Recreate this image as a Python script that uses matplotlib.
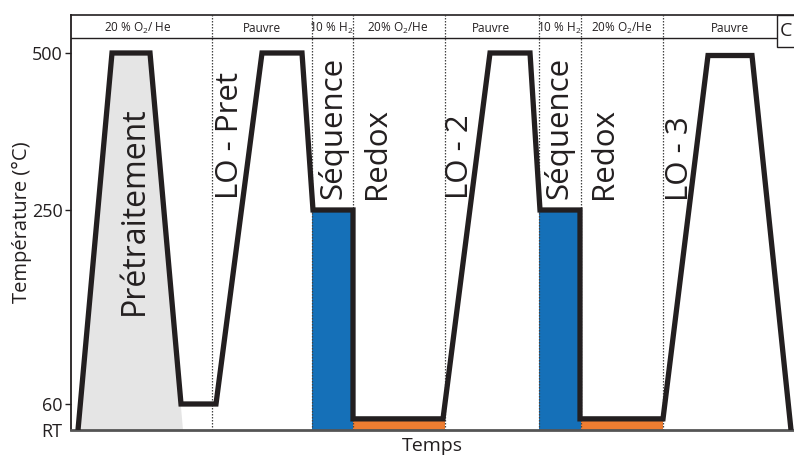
import numpy as np
import matplotlib
matplotlib.use("Agg")
import matplotlib.pyplot as plt
from matplotlib.patches import Polygon, Rectangle

plt.rcParams['font.family'] = ['Open Sans', 'DejaVu Sans']
plt.rcParams['mathtext.fontset'] = 'custom'
plt.rcParams['mathtext.rm'] = 'Open Sans'
plt.rcParams['mathtext.it'] = 'Open Sans'

# ---------------- data ----------------
RT = 25
# temperature program (time in arbitrary units, temperature in °C)
prog_t = [7, 41, 79, 110, 145, 191, 231, 242, 282, 282, 372, 419, 459, 469, 509, 509, 592, 637, 681, 720]
prog_T = [RT, 500, 500, 60, 60, 500, 500, 250, 250, 40, 40, 500, 500, 250, 250, 40, 40, 496, 496, RT]

# pretreatment shaded area
pre_t = [7, 41, 79, 112]
pre_T = [RT, 500, 500, RT]

# reduction (10 % H2) blocks and reoxidation (O2/He) blocks
red_start = [241, 468]
red_end = [282, 510]
red_top = [250, 250]
ox_start = [282, 510]
ox_end = [374, 592]
ox_top = [40, 40]

# gas phase dividers
dividers = [141, 241, 282, 374, 468, 510, 592]
gas_labels = ['20 % O$\\mathregular{_2}$/ He', 'Pauvre', '10 % H$\\mathregular{_2}$', '20% O$\\mathregular{_2}$/He',
              'Pauvre', '10 % H$\\mathregular{_2}$', '20% O$\\mathregular{_2}$/He', 'Pauvre']
gas_label_t = [67, 191, 260, 327, 420, 488, 551, 659]

# step annotations
step_labels = ['Prétraitement', 'LO - Pret', 'Séquence', 'Redox', 'LO - 2', 'Séquence', 'Redox', 'LO - 3']
step_t = [72, 167, 270, 314, 397, 496, 541, 617]
step_T_start = [147, 267, 267, 267, 267, 267, 267, 265]
step_size = [23, 22.5, 22.5, 22.5, 22.5, 22.5, 22.5, 22.5]

yticks = [RT, 60, 250, 500]
ytick_labels = ['RT', '60', '250', '500']

# ---------------- piecewise temperature axis ----------------
knots_T = np.array([0, 25, 60, 250, 500, 700])
knots_p = np.array([-18.6, 0, 26, 220, 377, 502.6])

def fwd(x):
    return np.interp(x, knots_T, knots_p)

def inv(p):
    return np.interp(p, knots_p, knots_T)

T_header_low = 523.9
T_header_mid = 539.5
T_top = 560.5

W, H = 794, 455
fig = plt.figure(figsize=(W / 100, H / 100), dpi=100)
ax = fig.add_axes([71 / W, 25 / H, (W - 71) / W, 415 / H])
ax.set_yscale('function', functions=(fwd, inv))
ax.set_xlim(0, 723)
ax.set_ylim(RT, T_top)

# pretreatment fill
ax.add_patch(Polygon(list(zip(pre_t, pre_T)), closed=True, facecolor='#e5e5e5', edgecolor='none', zorder=1))

# reduction/oxidation blocks
for s, e, top in zip(red_start, red_end, red_top):
    ax.fill_between([s, e], RT, top, color='#1570b8', lw=0, zorder=1)
for s, e, top in zip(ox_start, ox_end, ox_top):
    ax.fill_between([s, e], RT, top, color='#ee7d31', lw=0, zorder=1)

# dividers
for d in dividers:
    ax.axvline(d, color='#444444', lw=0.9, ls=(0, (1.2, 1.2)), zorder=2)

# profile
ax.plot(prog_t, prog_T, color='#231f20', lw=3.8, solid_joinstyle='miter', solid_capstyle='butt', zorder=3)

# header
ax.axhline(T_header_low, xmin=0, xmax=(777 - 71) / (W - 71), color='#231f20', lw=1.0, zorder=4)
for lab, t in zip(gas_labels, gas_label_t):
    ax.text(t, T_header_mid, lab, ha='center', va='center', fontsize=8.5, color='#231f20', zorder=5)

# step annotations
for lab, t, T0, fs in zip(step_labels, step_t, step_T_start, step_size):
    ax.text(t, T0, lab, rotation=90, rotation_mode='anchor', ha='left', va='baseline',
            fontsize=fs, color='#231f20', zorder=5)

# axes styling
ax.spines['right'].set_visible(False)
ax.spines['top'].set_color('#231f20')
ax.spines['top'].set_linewidth(1.2)
ax.spines['left'].set_color('#231f20')
ax.spines['left'].set_linewidth(1.3)
ax.spines['bottom'].set_color('#555555')
ax.spines['bottom'].set_linewidth(2.0)
ax.set_xticks([])
ax.set_yticks(yticks)
ax.set_yticklabels(ytick_labels, fontsize=13, color='#231f20')
ax.tick_params(axis='y', length=4, width=1, color='#231f20', pad=2)
ax.yaxis.get_major_ticks()[0].tick1line.set_visible(False)
ax.set_ylabel('Température (°C)', fontsize=14.5, color='#231f20', labelpad=0)
ax.set_xlabel('Temps', fontsize=14, color='#231f20', labelpad=5)

# clipped legend box on the right
fig.patches.append(Rectangle((777 / W, (H - 47) / H), 30 / W, 32 / H, transform=fig.transFigure,
                             facecolor='white', edgecolor='#231f20', lw=1.0, zorder=10))
fig.text(780 / W, (H - 31) / H, 'C', fontsize=14, ha='left', va='center', color='#231f20', zorder=11)

fig.savefig('out.png', dpi=100)
